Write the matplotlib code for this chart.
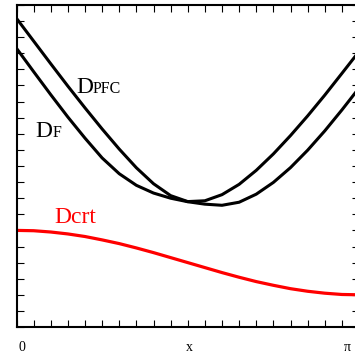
import matplotlib
matplotlib.use('Agg')
import matplotlib.pyplot as plt
import numpy as np

# Curves at the 21 tick positions on [0, pi]
x = np.linspace(0, np.pi, 21)
d_pfc = [19.17, 17.76, 16.35, 14.96, 13.61, 12.30, 11.05, 9.89, 8.90, 8.16, 7.79,
         7.84, 8.22, 8.86, 9.73, 10.75, 11.89, 13.11, 14.40, 15.75, 17.11]
d_f = [17.31, 15.86, 14.43, 13.04, 11.73, 10.50, 9.52, 8.80, 8.32, 8.00, 7.78,
       7.63, 7.56, 7.75, 8.25, 8.98, 9.90, 10.98, 12.18, 13.48, 14.84]
d_crt = [6.00, 5.98, 5.90, 5.78, 5.62, 5.41, 5.18, 4.91, 4.62, 4.31, 4.00,
         3.69, 3.38, 3.09, 2.82, 2.59, 2.38, 2.22, 2.10, 2.02, 2.00]

fig = plt.figure(figsize=(3.55, 3.57), dpi=100)
# right spine sits just outside the picture, as in the original
ax = fig.add_axes([16.5/355, 30/357, 342.5/355, 322/357])

ax.plot(x, d_pfc, color='black', lw=2.2)
ax.plot(x, d_f, color='black', lw=2.2)
ax.plot(x, d_crt, color='red', lw=2.3)

ax.set_xlim(0, np.pi)
ax.set_ylim(0, 20)
ax.set_xticks(np.linspace(0, np.pi, 21))
ax.set_yticks(np.arange(0, 21))
ax.tick_params(direction='in', length=5, width=0.8, top=True, right=True,
               labelbottom=False, labelleft=False)
for s in ax.spines.values():
    s.set_linewidth(1.5)

serif = 'Liberation Serif'
# curve labels (big D, smaller capitals after it)
ax.text(0.55, 14.53, 'D', fontsize=17, family=serif, va='baseline')
ax.text(0.702, 14.53, 'PFC', fontsize=11.5, family=serif, va='baseline')
ax.text(0.17, 11.8, 'D', fontsize=17, family=serif, va='baseline')
ax.text(0.33, 11.8, 'F', fontsize=11.5, family=serif, va='baseline')
ax.text(0.35, 6.44, 'Dcrt', fontsize=17, family=serif, va='baseline', color='red')

# labels under the frame
for xv, lab in [(0.05, '0'), (1.59, 'x'), (3.03, 'π')]:
    ax.text(xv, -1.25, lab, fontsize=10, family=serif, ha='center', va='center')

fig.savefig('out.png', dpi=100)
